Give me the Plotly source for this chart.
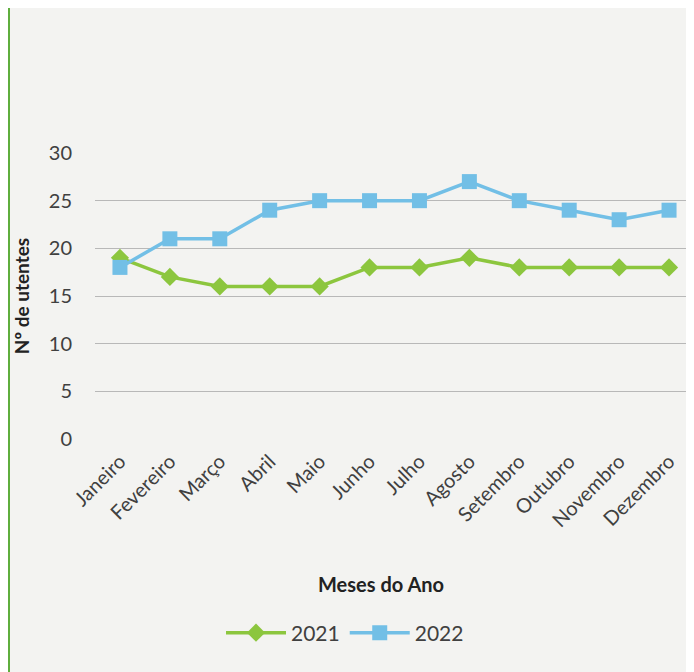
import plotly.graph_objects as go

months = ["Janeiro", "Fevereiro", "Março", "Abril", "Maio", "Junho", "Julho",
          "Agosto", "Setembro", "Outubro", "Novembro", "Dezembro"]
v2021 = [19, 17, 16, 16, 16, 18, 18, 19, 18, 18, 18, 18]
v2022 = [18, 21, 21, 24, 25, 25, 25, 27, 25, 24, 23, 24]
y_ticks = [0, 5, 10, 15, 20, 25, 30]

OFF = 8  # page body margin
W, H = 694 - OFF, 672 - OFF
L, R, T, B = 95 - OFF, 0, 153 - OFF, 233
pw = W - L - R
ph = H - T - B


def px(x):
    return (x - OFF - L) / pw


def py(y):
    return (T + ph - (y - OFF)) / ph


fig = go.Figure()
fig.add_trace(go.Scatter(x=months, y=v2021, name="2021", mode="lines+markers",
                         line=dict(color="#8cc63e", width=3.5),
                         marker=dict(symbol="diamond", size=14, color="#8cc63e"),
                         cliponaxis=False))
fig.add_trace(go.Scatter(x=months, y=v2022, name="2022", mode="lines+markers",
                         line=dict(color="#72bfe6", width=3.5),
                         marker=dict(symbol="square", size=15, color="#72bfe6"),
                         cliponaxis=False))

fig.update_layout(
    width=W, height=H,
    margin=dict(l=L, r=R, t=T, b=B, autoexpand=False),
    paper_bgcolor="#f3f3f1", plot_bgcolor="#f3f3f1",
    font=dict(family="Lato, Open Sans, sans-serif", color="#404040"),
    showlegend=True,
    legend=dict(orientation="h", x=px(345), xanchor="center",
                y=py(633), yanchor="middle",
                font=dict(size=21, color="#404040"), bgcolor="rgba(0,0,0,0)",
                itemwidth=60),
    xaxis=dict(type="category", range=[-0.5, 11.5], tickangle=-45,
               tickfont=dict(size=20, color="#404040"), showgrid=False,
               zeroline=False, showline=False, ticks="", ticklabelstandoff=6),
    yaxis=dict(range=[0, 30], tickvals=y_ticks, tickfont=dict(size=20, color="#404040"),
               gridcolor="#b8b8b8", gridwidth=1, zeroline=False, showline=False,
               ticklabelstandoff=22,
               title=dict(text="<b>Nº de utentes</b>", font=dict(size=19, color="#222222"),
                          standoff=14)),
    annotations=[
        dict(text="<b>Meses do Ano</b>", xref="paper", yref="paper",
             x=px(381), y=py(584), xanchor="center", yanchor="middle",
             showarrow=False, font=dict(size=20, color="#222222")),
    ],
    shapes=[
        dict(type="rect", xref="paper", yref="paper", x0=-L / pw, x1=-(L - 2) / pw,
             y0=-B / ph, y1=1 + T / ph, fillcolor="#5fae3e", line=dict(width=0), layer="below"),
    ],
)

fig.write_html("out.html")
